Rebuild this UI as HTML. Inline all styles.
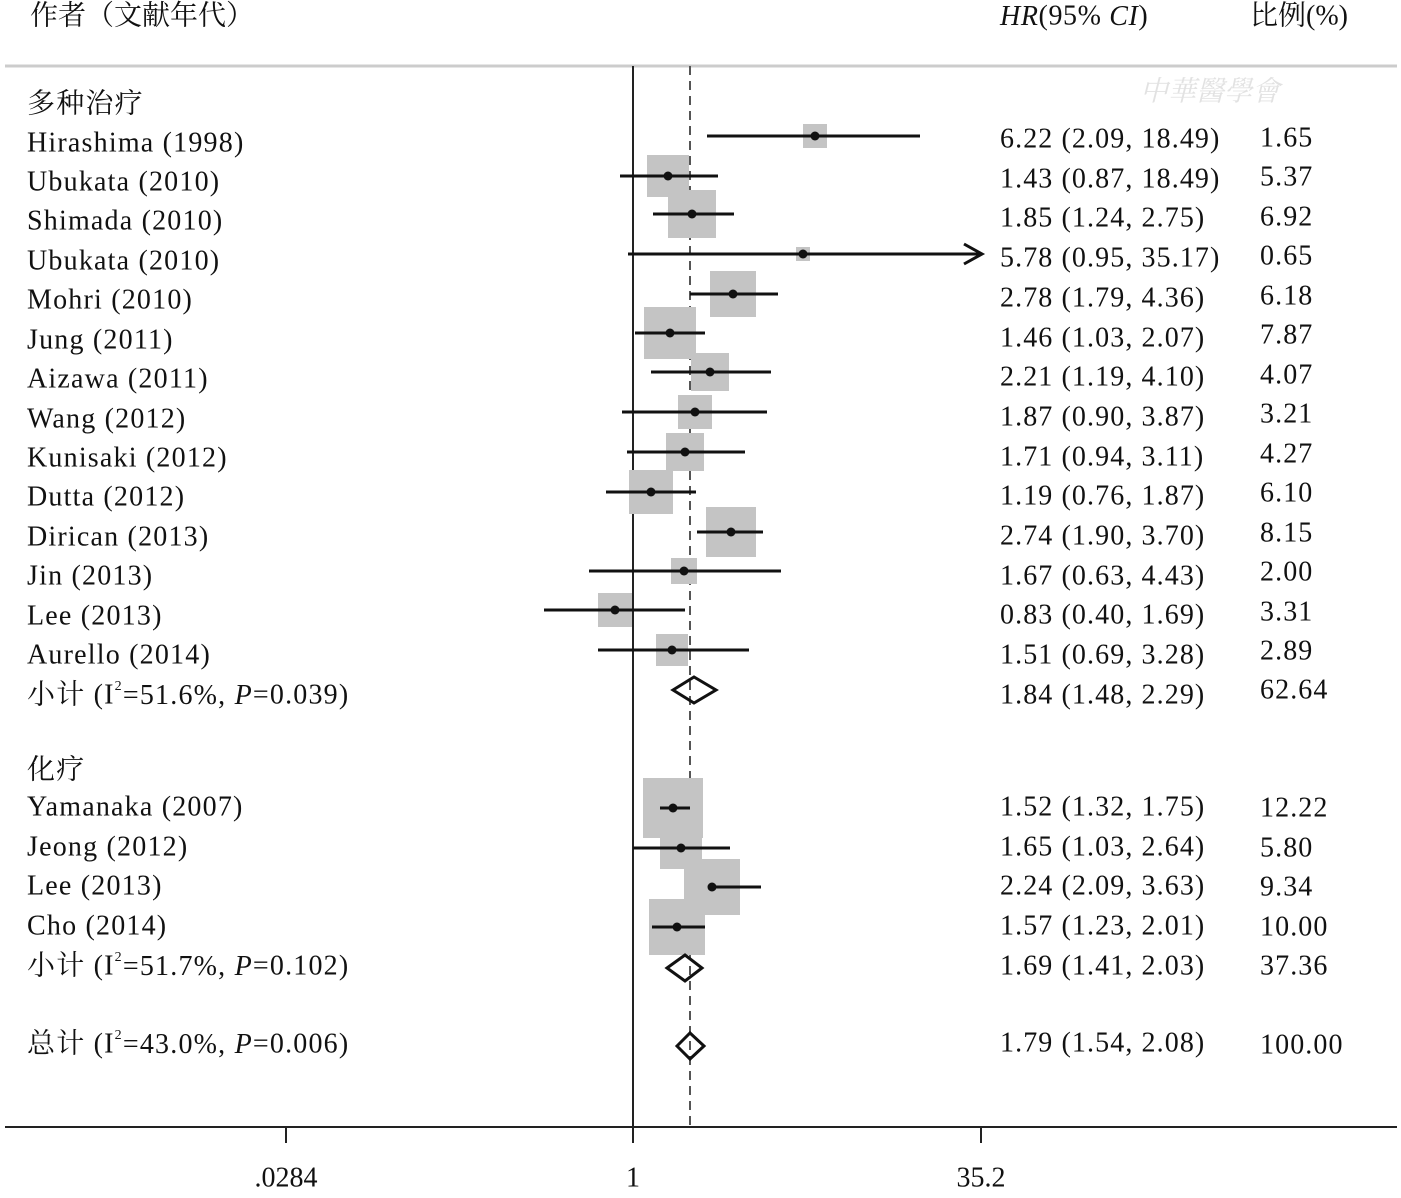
<!DOCTYPE html>
<html><head><meta charset="utf-8"><style>
html,body{margin:0;padding:0;background:#fff}
svg text{font-family:"Liberation Serif","Noto Serif CJK SC",serif;font-size:28px;fill:#111;dominant-baseline:central}
.lab text{letter-spacing:1.2px}
.hr text{letter-spacing:1.1px}
</style></head><body>
<svg width="1401" height="1193" viewBox="0 0 1401 1193" xmlns="http://www.w3.org/2000/svg">
<rect width="1401" height="1193" fill="#fff"/>
<text x="30" y="16">作者（文献年代）</text>
<text x="1000" y="16" style="letter-spacing:0.6px"><tspan font-style="italic">HR</tspan>(95% <tspan font-style="italic">CI</tspan>)</text>
<text x="1250" y="16">比例(%)</text>
<line x1="5" y1="66" x2="1397" y2="66" stroke="#ccc" stroke-width="3"/>
<text x="1140" y="92" style="fill:#e2e2e2;font-style:italic">中華醫學會</text>
<line x1="633" y1="66" x2="633" y2="1127" stroke="#222" stroke-width="2"/>
<line x1="690" y1="66" x2="690" y2="1127" stroke="#555" stroke-width="2" stroke-dasharray="9,6"/>
<g fill="#c4c4c4">
<rect x="803" y="124" width="24" height="24"/>
<rect x="647" y="155" width="42" height="42"/>
<rect x="668" y="190" width="48" height="48"/>
<rect x="796" y="247" width="14" height="14"/>
<rect x="710" y="271" width="46" height="46"/>
<rect x="644" y="307" width="52" height="52"/>
<rect x="691" y="353" width="38" height="38"/>
<rect x="678" y="395" width="34" height="34"/>
<rect x="666" y="433" width="38" height="38"/>
<rect x="629" y="470" width="44" height="44"/>
<rect x="706" y="507" width="50" height="50"/>
<rect x="671" y="558" width="26" height="26"/>
<rect x="598" y="593" width="34" height="34"/>
<rect x="656" y="634" width="32" height="32"/>
<rect x="643" y="778" width="60" height="60"/>
<rect x="660" y="827" width="42" height="42"/>
<rect x="684" y="859" width="56" height="56"/>
<rect x="649" y="899" width="56" height="56"/>
</g>
<g stroke="#111" stroke-width="3">
<line x1="707" y1="136" x2="920" y2="136"/>
<line x1="620" y1="176" x2="718" y2="176"/>
<line x1="653" y1="214" x2="734" y2="214"/>
<line x1="628" y1="254" x2="980" y2="254"/>
<line x1="690" y1="294" x2="778" y2="294"/>
<line x1="635" y1="333" x2="705" y2="333"/>
<line x1="651" y1="372" x2="771" y2="372"/>
<line x1="622" y1="412" x2="767" y2="412"/>
<line x1="627" y1="452" x2="745" y2="452"/>
<line x1="606" y1="492" x2="696" y2="492"/>
<line x1="697" y1="532" x2="763" y2="532"/>
<line x1="589" y1="571" x2="781" y2="571"/>
<line x1="544" y1="610" x2="685" y2="610"/>
<line x1="598" y1="650" x2="749" y2="650"/>
<line x1="660" y1="808" x2="690" y2="808"/>
<line x1="633" y1="848" x2="730" y2="848"/>
<line x1="712" y1="887" x2="761" y2="887"/>
<line x1="652" y1="927" x2="705" y2="927"/>
<polyline points="964,244 982,254 964,264" fill="none"/>
</g>
<g fill="#111">
<circle cx="815" cy="136" r="4.5"/><circle cx="668" cy="176" r="4.5"/><circle cx="692" cy="214" r="4.5"/>
<circle cx="803" cy="254" r="4.5"/><circle cx="733" cy="294" r="4.5"/><circle cx="670" cy="333" r="4.5"/>
<circle cx="710" cy="372" r="4.5"/><circle cx="695" cy="412" r="4.5"/><circle cx="685" cy="452" r="4.5"/>
<circle cx="651" cy="492" r="4.5"/><circle cx="731" cy="532" r="4.5"/><circle cx="684" cy="571" r="4.5"/>
<circle cx="615" cy="610" r="4.5"/><circle cx="672" cy="650" r="4.5"/><circle cx="673" cy="808" r="4.5"/>
<circle cx="681" cy="848" r="4.5"/><circle cx="712" cy="887" r="4.5"/><circle cx="677" cy="927" r="4.5"/>
</g>
<g fill="none" stroke="#111" stroke-width="3">
<polygon points="673,690 694,677 716,690 694,703"/>
<polygon points="667,968 685,955 702,968 685,981"/>
<polygon points="677,1046 690,1033 704,1046 690,1059"/>
</g>
<g class="lab">
<text x="27" y="104">多种治疗</text>
<text x="27" y="143">Hirashima (1998)</text>
<text x="27" y="182">Ubukata (2010)</text>
<text x="27" y="221">Shimada (2010)</text>
<text x="27" y="261">Ubukata (2010)</text>
<text x="27" y="300">Mohri (2010)</text>
<text x="27" y="340">Jung (2011)</text>
<text x="27" y="379">Aizawa (2011)</text>
<text x="27" y="419">Wang (2012)</text>
<text x="27" y="458">Kunisaki (2012)</text>
<text x="27" y="497">Dutta (2012)</text>
<text x="27" y="537">Dirican (2013)</text>
<text x="27" y="576">Jin (2013)</text>
<text x="27" y="616">Lee (2013)</text>
<text x="27" y="655">Aurello (2014)</text>
<text x="27" y="695">小计 (I<tspan font-size="14" dy="-9">2</tspan><tspan dy="9">=51.6%, </tspan><tspan font-style="italic">P</tspan>=0.039)</text>
<text x="27" y="770">化疗</text>
<text x="27" y="807">Yamanaka (2007)</text>
<text x="27" y="847">Jeong (2012)</text>
<text x="27" y="886">Lee (2013)</text>
<text x="27" y="926">Cho (2014)</text>
<text x="27" y="966">小计 (I<tspan font-size="14" dy="-9">2</tspan><tspan dy="9">=51.7%, </tspan><tspan font-style="italic">P</tspan>=0.102)</text>
<text x="27" y="1044">总计 (I<tspan font-size="14" dy="-9">2</tspan><tspan dy="9">=43.0%, </tspan><tspan font-style="italic">P</tspan>=0.006)</text>
</g>
<g class="hr">
<text x="1000" y="139">6.22 (2.09, 18.49)</text><text x="1260" y="138">1.65</text>
<text x="1000" y="179">1.43 (0.87, 18.49)</text><text x="1260" y="177">5.37</text>
<text x="1000" y="218">1.85 (1.24, 2.75)</text><text x="1260" y="217">6.92</text>
<text x="1000" y="258">5.78 (0.95, 35.17)</text><text x="1260" y="256">0.65</text>
<text x="1000" y="298">2.78 (1.79, 4.36)</text><text x="1260" y="296">6.18</text>
<text x="1000" y="338">1.46 (1.03, 2.07)</text><text x="1260" y="335">7.87</text>
<text x="1000" y="377">2.21 (1.19, 4.10)</text><text x="1260" y="375">4.07</text>
<text x="1000" y="417">1.87 (0.90, 3.87)</text><text x="1260" y="414">3.21</text>
<text x="1000" y="457">1.71 (0.94, 3.11)</text><text x="1260" y="454">4.27</text>
<text x="1000" y="496">1.19 (0.76, 1.87)</text><text x="1260" y="493">6.10</text>
<text x="1000" y="536">2.74 (1.90, 3.70)</text><text x="1260" y="533">8.15</text>
<text x="1000" y="576">1.67 (0.63, 4.43)</text><text x="1260" y="572">2.00</text>
<text x="1000" y="615">0.83 (0.40, 1.69)</text><text x="1260" y="612">3.31</text>
<text x="1000" y="655">1.51 (0.69, 3.28)</text><text x="1260" y="651">2.89</text>
<text x="1000" y="695">1.84 (1.48, 2.29)</text><text x="1260" y="690">62.64</text>
<text x="1000" y="807">1.52 (1.32, 1.75)</text><text x="1260" y="808">12.22</text>
<text x="1000" y="847">1.65 (1.03, 2.64)</text><text x="1260" y="848">5.80</text>
<text x="1000" y="886">2.24 (2.09, 3.63)</text><text x="1260" y="887">9.34</text>
<text x="1000" y="926">1.57 (1.23, 2.01)</text><text x="1260" y="927">10.00</text>
<text x="1000" y="966">1.69 (1.41, 2.03)</text><text x="1260" y="966">37.36</text>
<text x="1000" y="1043">1.79 (1.54, 2.08)</text><text x="1260" y="1045">100.00</text>
</g>
<line x1="5" y1="1127" x2="1397" y2="1127" stroke="#222" stroke-width="2"/>
<g stroke="#222" stroke-width="2">
<line x1="286" y1="1127" x2="286" y2="1143"/>
<line x1="633" y1="1127" x2="633" y2="1143"/>
<line x1="981" y1="1127" x2="981" y2="1143"/>
</g>
<text x="286" y="1178" text-anchor="middle">.0284</text>
<text x="633" y="1178" text-anchor="middle">1</text>
<text x="981" y="1178" text-anchor="middle">35.2</text>
</svg>
</body></html>
